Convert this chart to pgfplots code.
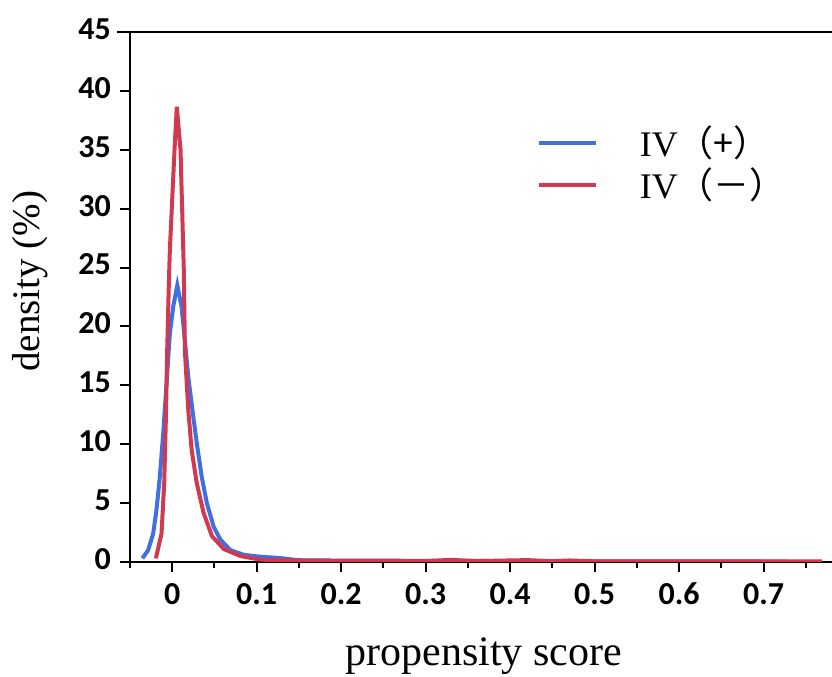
\documentclass[border=0pt]{standalone}
\usepackage{fontspec}
\setmainfont{Liberation Serif}
\newfontfamily\tickfont{Carlito}
\newfontfamily\cjk{Noto Sans CJK SC}
\usepackage{pgfplots}
\pgfplotsset{compat=1.18}
\usetikzlibrary{calc}
\definecolor{cBlue}{HTML}{3F6FE0}
\definecolor{cRed}{HTML}{D0394F}

\begin{document}
\begin{tikzpicture}
  \begin{axis}[
      scale only axis,
      width=351pt,height=265pt,
      xmin=-0.05,xmax=0.781,ymin=0,ymax=45,
      axis lines=left,
      axis line style={-,line width=1pt},
      xtick={0,0.1,0.2,0.3,0.4,0.5,0.6,0.7},
      xticklabels={0,0.1,0.2,0.3,0.4,0.5,0.6,0.7},
      minor xtick={-0.05,0.05,0.15,0.25,0.35,0.45,0.55,0.65,0.75},
      ytick={0,5,10,15,20,25,30,35,40,45},
      tick align=outside,
      major tick length=5pt,minor tick length=3pt,
      tick style={black,line width=1pt},
      /pgf/number format/assume math mode=true,
      tick label style={font=\tickfont\bfseries\fontsize{16}{18}\selectfont},
      yticklabel style={yshift=1.5pt,xshift=-1pt},
      xticklabel style={yshift=-2pt},
      xlabel={propensity score},
      ylabel={density (\%)},
      label style={font=\fontsize{21}{24}\selectfont},
      xlabel style={at={(rel axis cs:0.504,0)},anchor=base,yshift=-51.5pt},
      ylabel style={at={(rel axis cs:0,0.53)},anchor=center,yshift=50pt,font=\fontsize{19.5}{22}\selectfont},
      legend style={at={(rel axis cs:0.579,0.751)},anchor=west,draw=none,fill=none,
        font=\fontsize{18}{21}\selectfont,row sep=0pt,inner sep=0pt},
      legend cell align=left,
      legend image code/.code={\draw[#1] (0pt,0pt) -- (28.5pt,0pt);},
      /tikz/every odd column/.append style={column sep=19pt},
    ]
    \addplot[cBlue,line width=2pt] coordinates {
      (-0.0353,0.31)(-0.0286,1.0)(-0.0226,2.4)(-0.0187,4.4)(-0.0147,7.2)
      (-0.0107,10.9)(-0.0067,15.2)(-0.0028,19.4)(0.0012,21.7)(0.006,23.5)
      (0.011,21.7)(0.015,18.8)(0.019,15.7)(0.025,12.3)(0.029,10.1)
      (0.035,7.2)(0.041,5.0)(0.049,3.0)(0.057,1.9)(0.069,1.0)
      (0.085,0.6)(0.104,0.45)(0.125,0.35)(0.15,0.15)
      (0.2,0.12)(0.3,0.10)(0.4,0.08)(0.5,0.06)(0.6,0.05)(0.729,0.04)};
    \addplot[cRed,line width=2pt] coordinates {
      (-0.0194,0.31)(-0.0127,2.4)(-0.0095,6.7)(-0.0075,12.3)(-0.006,17.9)
      (-0.004,23.7)(-0.0028,26.5)(0.0027,35.0)(0.0054,38.65)(0.0098,35.0)
      (0.0137,24.8)(0.015,17.9)(0.019,12.9)(0.023,9.5)(0.029,6.7)
      (0.037,4.2)(0.047,2.2)(0.061,1.1)(0.081,0.5)(0.104,0.2)
      (0.152,0.12)(0.2,0.1)(0.3,0.08)(0.33,0.18)(0.36,0.08)
      (0.42,0.16)(0.45,0.07)(0.47,0.13)(0.5,0.06)(0.6,0.05)(0.769,0.05)};
    \legend{IV{\cjk（+）},IV{\cjk（－）}}
    \coordinate (bl) at (rel axis cs:0,0);
    \coordinate (tl) at (rel axis cs:0,1);
    \coordinate (tr) at (rel axis cs:1,1);
  \end{axis}
  \draw[line width=1pt] ($(tl)+(-6.5pt,0)$) -- (tr);
  \pgfresetboundingbox
  \path ($(bl)+(-65pt,-57.5pt)$) rectangle ($(tr)+(0,16pt)$);
\end{tikzpicture}
\end{document}
